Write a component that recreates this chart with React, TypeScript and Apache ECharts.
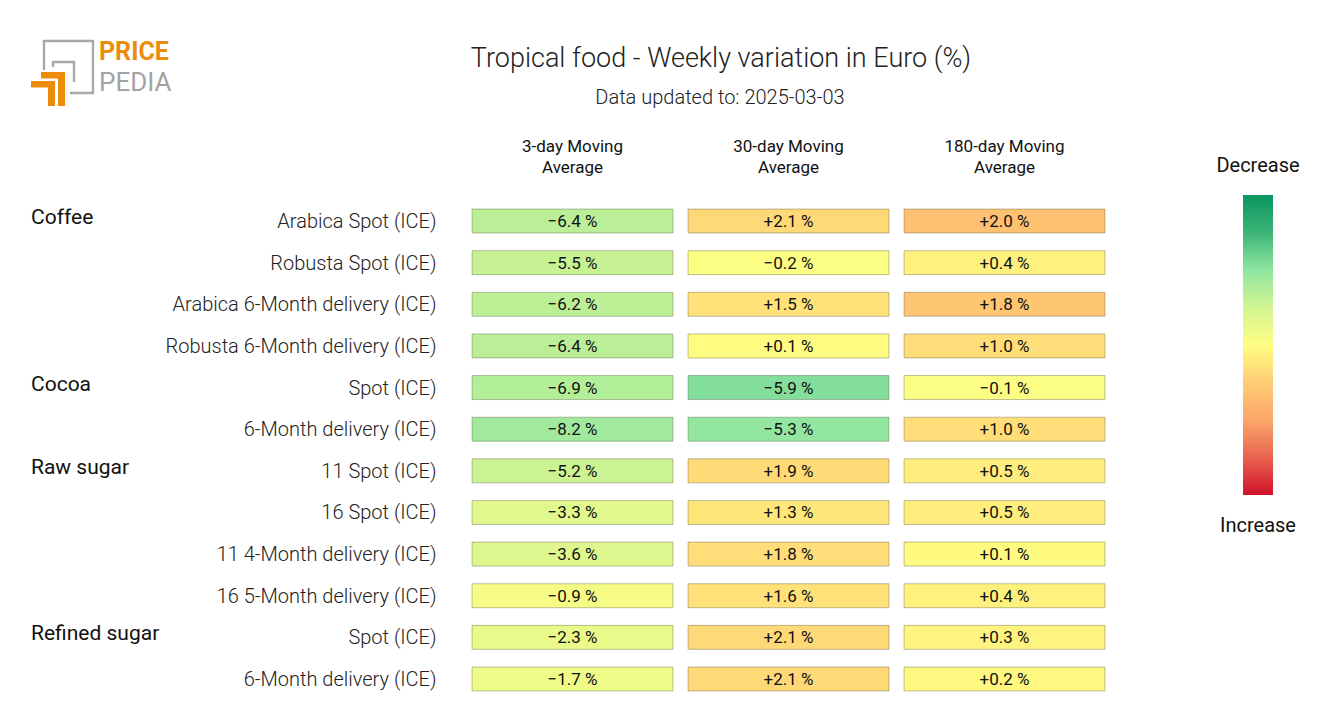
import React, { useEffect, useRef } from "react";
import * as echarts from "echarts";

const columns = ["3-day Moving\nAverage", "30-day Moving\nAverage", "180-day Moving\nAverage"];
const rowLabels = [
  "Arabica Spot (ICE)",
  "Robusta Spot (ICE)",
  "Arabica 6-Month delivery (ICE)",
  "Robusta 6-Month delivery (ICE)",
  "Spot (ICE)",
  "6-Month delivery (ICE)",
  "11 Spot (ICE)",
  "16 Spot (ICE)",
  "11 4-Month delivery (ICE)",
  "16 5-Month delivery (ICE)",
  "Spot (ICE)",
  "6-Month delivery (ICE)",
];
const groups = [
  { name: "Coffee", row: 0 },
  { name: "Cocoa", row: 4 },
  { name: "Raw sugar", row: 6 },
  { name: "Refined sugar", row: 10 },
];
const ma3 = [-6.4, -5.5, -6.2, -6.4, -6.9, -8.2, -5.2, -3.3, -3.6, -0.9, -2.3, -1.7];
const ma30 = [2.1, -0.2, 1.5, 0.1, -5.9, -5.3, 1.9, 1.3, 1.8, 1.6, 2.1, 2.1];
const ma180 = [2.0, 0.4, 1.8, 1.0, -0.1, 1.0, 0.5, 0.5, 0.1, 0.4, 0.3, 0.2];
const columnValues = [ma3, ma30, ma180];
const colorRanges = [19, 11, 6.2];

const scaleColors = [
  "#0a9460",
  "#3cb577",
  "#8ee5a0",
  "#d2f592",
  "#fffe82",
  "#ffcc74",
  "#fca66a",
  "#e8644f",
  "#d0102a",
];

function fmt(v: number): string {
  const s = Math.abs(v).toFixed(1);
  if (v > 0) return "+" + s + " %";
  if (v < 0) return "\u2212" + s + " %";
  return s + " %";
}

const FONT = "Roboto, 'Noto Sans', sans-serif";

export default function App() {
  const ref = useRef<HTMLDivElement>(null);
  useEffect(() => {
    document.body.style.margin = "0";
    if (!ref.current) return;
    const chart = echarts.init(ref.current, null, { renderer: "svg" });

    const series = columnValues.map((vals, c) => ({
      type: "custom",
      name: columns[c],
      data: vals.map((v, i) => [c, i, v]),
      encode: { x: 0, y: 1 },
      renderItem: (params: any, api: any) => {
        const p = api.coord([api.value(0), api.value(1)]);
        const size = api.size([1, 1]);
        const w = size[0] * 0.93;
        const h = size[1] * 0.576;
        const v = api.value(2);
        return {
          type: "group",
          children: [
            {
              type: "rect",
              shape: { x: p[0] - w / 2, y: p[1] - h / 2, width: w, height: h },
              style: { fill: api.visual("color"), stroke: "rgba(60,60,40,0.32)", lineWidth: 1 },
            },
            {
              type: "text",
              x: p[0],
              y: p[1],
              style: {
                text: fmt(v),
                fill: "#111",
                font: "17px " + FONT,
                align: "center",
                verticalAlign: "middle",
              },
            },
          ],
        };
      },
    }));

    const visualMaps = columnValues.map((_, c) => ({
      show: false,
      type: "continuous",
      seriesIndex: c,
      dimension: 2,
      min: -colorRanges[c],
      max: colorRanges[c],
      inRange: { color: scaleColors },
    }));

    const logo = [
      {
        type: "polyline",
        shape: { points: [[44, 70], [44, 41], [93, 41], [93, 93], [70, 93]] },
        style: { stroke: "#a8a8a8", lineWidth: 2.4, fill: "none" },
      },
      {
        type: "polyline",
        shape: { points: [[53, 67], [53, 62], [74, 62], [74, 82]] },
        style: { stroke: "#a8a8a8", lineWidth: 2.4, fill: "none" },
      },
      {
        type: "polygon",
        shape: { points: [[41, 72], [65, 72], [65, 106], [58, 106], [58, 78.5], [41, 78.5]] },
        style: { fill: "#ec8c0c" },
      },
      {
        type: "polygon",
        shape: { points: [[31, 81], [55, 81], [55, 106], [48, 106], [48, 87.5], [31, 87.5]] },
        style: { fill: "#ec8c0c" },
      },
      {
        type: "text",
        x: 99,
        y: 51.5,
        style: {
          text: "PRICE",
          font: "bold 25px " + FONT,
          fill: "#ec8c0c",
          verticalAlign: "middle",
        },
      },
      {
        type: "text",
        x: 99,
        y: 81.5,
        style: {
          text: "PEDIA",
          font: "26px " + FONT,
          fill: "#a3a3a3",
          verticalAlign: "middle",
        },
      },
    ];

    const baseGraphics: any[] = [
      ...logo,
      {
        type: "text",
        x: 721,
        y: 58,
        style: {
          text: "Tropical food - Weekly variation in Euro (%)",
          font: "300 27px " + FONT,
          fill: "#222",
          align: "center",
          verticalAlign: "middle",
        },
      },
      {
        type: "text",
        x: 720,
        y: 97,
        style: {
          text: "Data updated to: 2025-03-03",
          font: "300 20px " + FONT,
          fill: "#222",
          align: "center",
          verticalAlign: "middle",
        },
      },
      {
        type: "rect",
        shape: { x: 1243, y: 195, width: 30, height: 300 },
        style: {
          fill: new echarts.graphic.LinearGradient(
            0,
            0,
            0,
            1,
            scaleColors.map((color, i) => ({ offset: i / (scaleColors.length - 1), color }))
          ),
        },
      },
      {
        type: "text",
        x: 1258,
        y: 165,
        style: { text: "Decrease", font: "20px " + FONT, fill: "#111", align: "center", verticalAlign: "middle" },
      },
      {
        type: "text",
        x: 1258,
        y: 525,
        style: { text: "Increase", font: "20px " + FONT, fill: "#111", align: "center", verticalAlign: "middle" },
      },
    ];

    chart.setOption({
      animation: false,
      backgroundColor: "#fff",
      grid: { left: 464.5, top: 200.2, width: 648, height: 499.6 },
      xAxis: {
        type: "category",
        position: "top",
        data: columns,
        axisLine: { show: false },
        axisTick: { show: false },
        splitLine: { show: false },
        axisLabel: {
          fontSize: 17,
          lineHeight: 21,
          color: "#111",
          fontFamily: FONT,
          margin: 23,
          interval: 0,
        },
      },
      yAxis: {
        type: "category",
        inverse: true,
        data: rowLabels.map((_, i) => String(i)),
        axisLine: { show: false },
        axisTick: { show: false },
        splitLine: { show: false },
        axisLabel: {
          fontSize: 20,
          fontWeight: 300,
          color: "#222",
          fontFamily: FONT,
          margin: 28,
          interval: 0,
          formatter: (_v: string, idx: number) => rowLabels[idx],
        },
      },
      visualMap: visualMaps,
      series,
      graphic: baseGraphics,
    });

    const groupTexts = groups.map((g) => {
      const y = chart.convertToPixel({ yAxisIndex: 0 }, g.row) as number;
      return {
        type: "text",
        x: 31,
        y: y - 4,
        style: {
          text: g.name,
          font: "21px " + FONT,
          fill: "#111",
          verticalAlign: "middle",
        },
      };
    });
    chart.setOption({ graphic: [...baseGraphics, ...groupTexts] }, { replaceMerge: ["graphic"] });

    return () => chart.dispose();
  }, []);
  return <div ref={ref} style={{ width: 1320, height: 720 }} />;
}
